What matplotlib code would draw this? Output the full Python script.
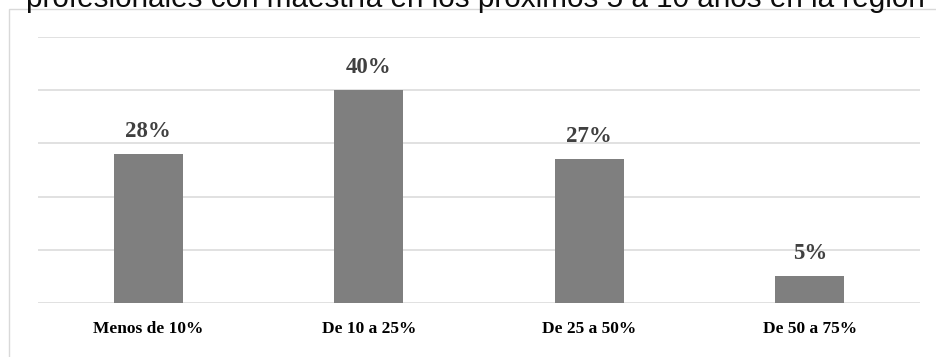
import numpy as np
import matplotlib
matplotlib.use('Agg')
import matplotlib.pyplot as plt
from matplotlib.patches import Rectangle

# data
categories = ['Menos de 10%', 'De 10 a 25%', 'De 25 a 50%', 'De 50 a 75%']
values = [0.28, 0.40, 0.27, 0.05]
title_text = 'profesionales con maestría en los próximos 5 a 10 años en la región'

W, H = 936, 357
fig = plt.figure(figsize=(W/100, H/100), dpi=100)

# axes placed in pixel terms
left, right, top, bottom = 38, 920, 37.3, 302.7
ax = fig.add_axes([left/W, 1-bottom/H, (right-left)/W, (bottom-top)/H])

x = np.arange(len(categories))
ax.bar(x, values, width=0.313, color='#7f7f7f', zorder=3)
ax.set_xlim(-0.5, len(categories)-0.5)
ax.set_ylim(0, 0.5)
ax.set_yticks(np.arange(0, 0.51, 0.1))
ax.yaxis.grid(True, color='#d9d9d9', linewidth=1.1, zorder=0)
ax.tick_params(left=False, bottom=False, labelleft=False, labelbottom=False)
for s in ax.spines.values():
    s.set_visible(False)

# bar value labels
for xi, v in zip(x, values):
    ax.annotate(f'{v*100:.0f}%', (xi, v), xytext=(0, 12.2), textcoords='offset points',
                ha='center', va='baseline', fontsize=16.5, fontweight='bold',
                family='Liberation Serif', color='#404040')

# category labels
for xi, c in zip(x, categories):
    ax.annotate(c, (xi, 0), xytext=(0, -21.8), textcoords='offset points',
                ha='center', va='baseline', fontsize=12.5, fontweight='bold',
                family='Liberation Serif', color='black')

# chart border (cut off at right/bottom)
fig.patches.append(Rectangle((9/W, -0.1), 1.2, 1-9/H+0.1, transform=fig.transFigure,
                             fill=False, edgecolor='#d9d9d9', linewidth=1.0))

# title, mostly cut off at the top (as in the source image)
fig.text(475/W, 1-7/H, title_text, ha='center', va='baseline', fontsize=21.3,
         family='Liberation Sans', color='#0d0d0d')

fig.savefig('out.png', dpi=100, facecolor='white')
